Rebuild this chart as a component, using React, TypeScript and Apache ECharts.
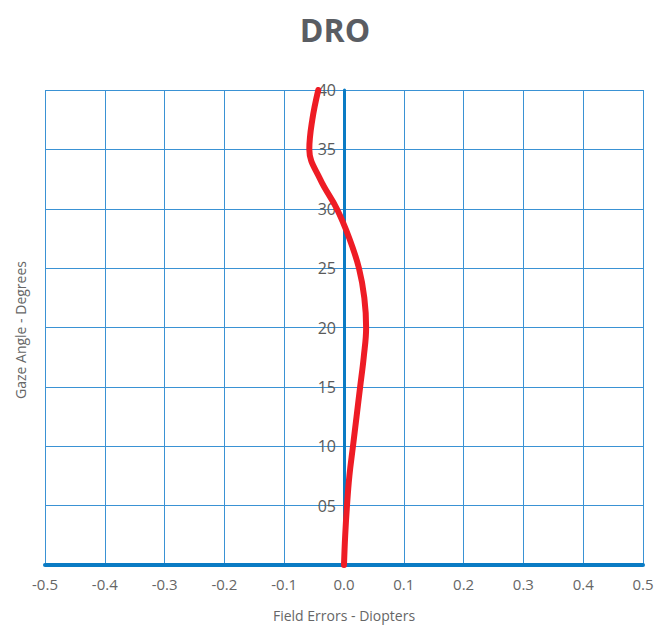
import React, { useEffect, useRef } from "react";
import * as echarts from "echarts";

const titleText = "DRO";
const xAxisName = "Field Errors - Diopters";
const yAxisName = "Gaze Angle - Degrees";
const gazeAngles = [0, 2.5, 5, 7.5, 10, 12.5, 15, 17.5, 20, 22.5, 25, 27.5, 30, 32.5, 35, 37.5, 40];
const fieldErrors = [0, 0.002, 0.005, 0.009, 0.015, 0.021, 0.027, 0.033, 0.037, 0.034, 0.025, 0.009, -0.012, -0.04, -0.058, -0.053, -0.043];

export default function App() {
  const ref = useRef<HTMLDivElement>(null);
  useEffect(() => {
    document.body.style.margin = "0";
    const chart = echarts.init(ref.current!, null, { renderer: "svg" });
    const font = "'Open Sans', sans-serif";
    chart.setOption({
      animation: false,
      backgroundColor: "#ffffff",
      title: {
        text: titleText,
        left: "center",
        top: 8,
        textStyle: { fontSize: 32, fontWeight: "bold", color: "#5a5d63", fontFamily: font },
      },
      grid: { left: 45, right: 27, top: 90, bottom: 57 },
      xAxis: {
        type: "value",
        min: -0.5,
        max: 0.5,
        interval: 0.1,
        name: xAxisName,
        nameLocation: "middle",
        nameGap: 43,
        nameTextStyle: { fontSize: 14, color: "#666", fontFamily: font },
        axisLine: { show: true, onZero: false, lineStyle: { color: "#0a7bc4", width: 4 } },
        axisTick: { show: false },
        axisLabel: {
          fontSize: 15,
          color: "#666",
          fontFamily: font,
          margin: 11,
          formatter: (v: number) => (Math.abs(v) < 1e-9 ? 0 : v).toFixed(1),
        },
        splitLine: { show: true, lineStyle: { color: "#3a92d4", width: 1 } },
      },
      yAxis: {
        type: "value",
        min: 0,
        max: 40,
        interval: 5,
        position: "left",
        offset: -299,
        axisLine: { show: true, onZero: false, lineStyle: { color: "#0a7bc4", width: 3 } },
        axisTick: { show: false },
        axisLabel: {
          fontSize: 16,
          color: "#5a5a5a",
          fontFamily: font,
          margin: 8,
          formatter: (v: number) => (v === 0 ? "" : String(v).padStart(2, "0")),
        },
        splitLine: { show: true, lineStyle: { color: "#3a92d4", width: 1 } },
      },
      graphic: [
        {
          type: "text",
          x: 20,
          y: 330,
          rotation: Math.PI / 2,
          style: {
            text: yAxisName,
            fontSize: 14,
            fill: "#666",
            fontFamily: font,
            textAlign: "center",
            textVerticalAlign: "middle",
          },
        },
      ],
      series: [
        {
          type: "line",
          data: gazeAngles.map((g, i) => [fieldErrors[i], g]),
          smooth: 0.4,
          showSymbol: false,
          lineStyle: { color: "#ee1c25", width: 6, cap: "round" },
          z: 5,
        },
      ],
    });
    return () => chart.dispose();
  }, []);
  return <div ref={ref} style={{ width: 670, height: 627 }} />;
}
